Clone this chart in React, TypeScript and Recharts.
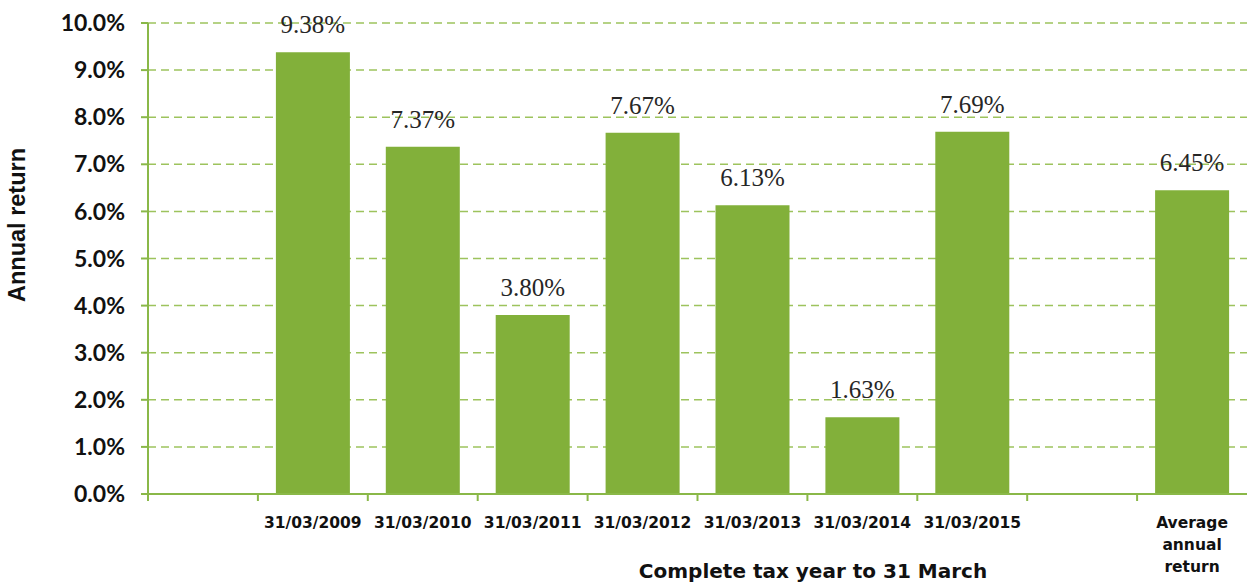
import { BarChart, Bar, XAxis, YAxis, CartesianGrid, LabelList, Label } from "recharts";

const categories = [
  "",
  "31/03/2009",
  "31/03/2010",
  "31/03/2011",
  "31/03/2012",
  "31/03/2013",
  "31/03/2014",
  "31/03/2015",
  "",
  "Average annual return",
];
const returns: (number | null)[] = [null, 9.38, 7.37, 3.8, 7.67, 6.13, 1.63, 7.69, null, 6.45];
const yTicks = [0, 1, 2, 3, 4, 5, 6, 7, 8, 9, 10];

const data = categories.map((c, i) => ({ cat: c, value: returns[i] }));

const GREEN = "#82b03a";
const AXIS = "#8ab848";
const GRID = "#9dc35d";
const BAND = 109.9;

const XTick = (props: any) => {
  const { x, y, payload } = props;
  const label: string = payload.value || "";
  const lines = label.length > 12 ? label.split(" ") : [label];
  return (
    <g>
      <line x1={x - BAND / 2} y1={y - 8} x2={x - BAND / 2} y2={y - 1} stroke={AXIS} strokeWidth={2} />
      {label && (
        <text x={x} y={y + 26} textAnchor="middle" fontFamily="DejaVu Sans" fontWeight={700} fontSize={15.5} fill="#111">
          {lines.map((l, i) => (
            <tspan key={i} x={x} dy={i === 0 ? 0 : 22}>
              {l}
            </tspan>
          ))}
        </text>
      )}
    </g>
  );
};

export default function App() {
  return (
    <div style={{ position: "absolute", left: 0, top: 0, background: "#fff" }}>
      <BarChart width={1247} height={584} data={data} margin={{ top: 23, right: 0, bottom: 0, left: 0 }}>
        <CartesianGrid vertical={false} stroke={GRID} strokeDasharray="8 5" strokeWidth={1.5} />
        <XAxis
          dataKey="cat"
          height={90}
          interval={0}
          tickLine={false}
          tick={<XTick />}
          axisLine={{ stroke: AXIS, strokeWidth: 2 }}
        >
          <Label
            content={() => (
              <text x={813} y={578} textAnchor="middle" fontFamily="DejaVu Sans" fontWeight={700} fontSize={20} fill="#111">
                Complete tax year to 31 March
              </text>
            )}
          />
        </XAxis>
        <YAxis
          width={148}
          domain={[0, 10]}
          ticks={yTicks}
          tickFormatter={(v: number) => `${v.toFixed(1)}%`}
          tickSize={7}
          tickMargin={16}
          tickLine={{ stroke: AXIS, strokeWidth: 2 }}
          axisLine={{ stroke: AXIS, strokeWidth: 2 }}
          tick={{ fontFamily: "Lato", fontWeight: 700, fontSize: 23, fill: "#111" }}
        >
          <Label
            content={() => (
              <text
                x={25}
                y={225}
                transform="rotate(-90 25 225)"
                textAnchor="middle"
                fontFamily="Liberation Sans"
                fontWeight={700}
                fontSize={23.5}
                fill="#111"
              >
                Annual return
              </text>
            )}
          />
        </YAxis>
        <Bar dataKey="value" fill={GREEN} barSize={74} isAnimationActive={false}>
          <LabelList
            dataKey="value"
            position="top"
            offset={19}
            formatter={(v: any) => (v == null ? "" : `${Number(v).toFixed(2)}%`)}
            style={{ fontFamily: "Liberation Serif", fontSize: 25, fill: "#262626" }}
          />
        </Bar>
      </BarChart>
    </div>
  );
}
